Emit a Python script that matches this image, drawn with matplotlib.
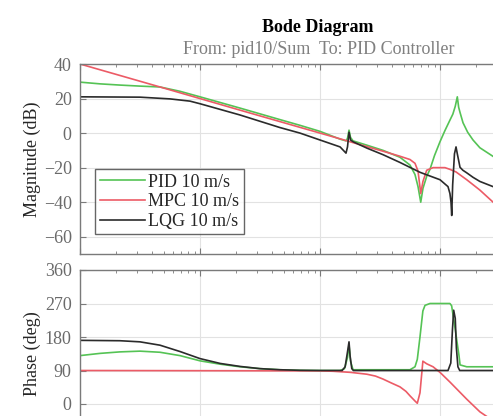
import numpy as np
import matplotlib
matplotlib.use("Agg")
import matplotlib.pyplot as plt
from matplotlib.ticker import LogLocator, NullFormatter, FixedLocator

plt.rcParams['font.family'] = ['Liberation Serif', 'DejaVu Serif']

# ---------------- data ----------------
# frequency (rad/s) for each series
w_mpc_mag = [0.01, 0.0464, 0.215, 1.0, 1.555, 2.154, 3.35, 4.64, 5.62, 6.19, 6.56, 6.91, 7.21, 7.75,
             8.75, 11.0, 12.1, 13.6, 16.7, 21.5, 27.7]
mpc_mag = [40, 26.7, 13.3, 0, -3.8, -6.7, -10.5, -13.4, -15.3, -17.5, -22, -35, -28, -21.5,
           -20, -20, -21, -22.5, -27, -33, -40]

w_pid_mag = [0.01, 0.0147, 0.0215, 0.0316, 0.0464, 0.0681, 0.1, 0.215, 0.464, 0.681, 1.0, 1.47,
             1.647, 1.695, 1.745, 1.796, 1.884, 2.46, 3.35, 4.64, 5.62, 6.19, 6.56, 6.91, 7.21,
             7.75, 8.25, 9.0, 10.0, 11.0, 12.1, 12.8, 13.4, 13.94, 14.3, 14.68, 15.55, 17.0,
             18.84, 21.5, 27.7]
pid_mag = [29.5, 28.5, 27.8, 27.2, 26.7, 24.2, 21, 14.5, 7.8, 4.5, 1.0, -3.5,
           -4.5, -3, 1.7, -2.5, -4.5, -7, -10, -14, -18.5, -24, -31, -40, -32,
           -25, -21, -13, -5, 1.5, 7.5, 11, 15.5, 21, 15, 12, 6, 0.5,
           -4, -8.5, -13.5]

w_lqg_mag = [0.01, 0.0316, 0.0562, 0.0825, 0.1, 0.215, 0.464, 0.681, 1.0, 1.47, 1.647, 1.695,
             1.745, 1.796, 1.884, 2.46, 3.35, 4.64, 6.81, 10.0, 11.66, 12.1, 12.35, 12.52, 12.75,
             13.2, 13.6, 13.94, 14.68, 15.5, 16.7, 18.84, 21.5, 27.7]
lqg_mag = [21, 20.8, 19.8, 18.5, 17, 10.5, 3.2, 0, -4, -8, -11.6, -8,
           0.5, -4, -5, -8.7, -12.5, -17, -22.7, -27, -31, -35, -40, -47.7, -30,
           -12, -8, -12, -19.8, -21.5, -23, -25.6, -28, -31]

w_mpc_ph = [0.01, 1.0, 1.28, 1.796, 2.46, 2.9, 3.35, 3.9, 4.64, 5.2, 5.62, 6.19, 6.47, 6.81,
            7.2, 7.75, 8.75, 10.0, 12.1, 16.7, 21.5, 27.7]
mpc_ph = [90, 89, 88, 85, 80, 75, 67, 57, 46, 34, 22, 8, 2, 30,
          115, 108, 100, 85, 59, 13, -21, -45]

w_pid_ph = [0.01, 0.0147, 0.0215, 0.0316, 0.0464, 0.0681, 0.1, 0.147, 0.215, 0.316, 0.464, 0.681,
            1.0, 1.47, 1.60, 1.695, 1.745, 1.796, 1.884, 5.62, 6.19, 6.47, 6.81, 7.2, 7.5, 8.25,
            12.1, 12.5, 13.4, 14.4, 14.7, 16.7, 27.7]
pid_ph = [130, 136, 140, 142, 139, 130, 116, 107, 100, 95, 92, 90.5,
          90, 90, 95, 125, 158, 115, 92, 92, 100, 120, 180, 250, 265, 270,
          270, 264, 200, 130, 105, 100, 100]

w_lqg_ph = [0.01, 0.0215, 0.0316, 0.0464, 0.0681, 0.1, 0.147, 0.215, 0.316, 0.464, 0.681, 1.0,
            1.53, 1.62, 1.695, 1.745, 1.78, 1.84, 1.90, 11.66, 12.3, 12.7, 13.0, 13.4, 13.7,
            14.1, 14.6, 27.7]
lqg_ph = [171, 170, 167, 158, 141, 122, 109, 101, 95, 92, 90.5, 90,
          90, 100, 140, 167, 130, 95, 90, 90, 110, 200, 252, 230, 150,
          100, 90, 90]

labels = ['PID 10 m/s', 'MPC 10 m/s', 'LQG 10 m/s']
mag_ticks = [-60, -40, -20, 0, 20, 40]
ph_ticks = [0, 90, 180, 270, 360]

# ---------------- styling ----------------
c_pid = '#55c355'
c_mpc = '#ec5b66'
c_lqg = '#2b2b2b'
spine_c = '#7a7a7a'
tick_c = '#6a6a6a'
grid_c = '#e2e2e2'
fs = 13

fig = plt.figure(figsize=(4.93, 4.16), dpi=100)
W, H = 493, 416

def fr(x0, y_top, x1, y_bot):
    return [x0 / W, 1 - y_bot / H, (x1 - x0) / W, (y_bot - y_top) / H]

ax1 = fig.add_axes(fr(80, 64, 560, 254))
ax2 = fig.add_axes(fr(80, 270, 560, 437.5))

for ax in (ax1, ax2):
    ax.set_xscale('log')
    ax.set_xlim(1e-2, 1e2)
    ax.grid(True, which='major', color=grid_c, lw=0.8)
    ax.set_axisbelow(True)
    for s in ax.spines.values():
        s.set_color(spine_c)
        s.set_linewidth(1.0)
    ax.tick_params(which='both', direction='in', top=True, right=True,
                   color=spine_c, labelcolor=tick_c, labelsize=fs, length=4, pad=6)
    ax.tick_params(which='minor', length=2.5)
    ax.xaxis.set_minor_locator(LogLocator(base=10, subs=np.arange(2, 10), numticks=20))
    ax.xaxis.set_minor_formatter(NullFormatter())
    ax.tick_params(axis='x', labelbottom=False)

ax1.plot(w_pid_mag, pid_mag, color=c_pid, lw=1.2, label=labels[0])
ax1.plot(w_mpc_mag, mpc_mag, color=c_mpc, lw=1.2, label=labels[1])
ax1.plot(w_lqg_mag, lqg_mag, color=c_lqg, lw=1.2, label=labels[2])
ax1.set_ylim(-70, 40)
ax1.yaxis.set_major_locator(FixedLocator(mag_ticks))

ax2.plot(w_pid_ph, pid_ph, color=c_pid, lw=1.2)
ax2.plot(w_mpc_ph, mpc_ph, color=c_mpc, lw=1.2)
ax2.plot(w_lqg_ph, lqg_ph, color=c_lqg, lw=1.2)
ax2.set_ylim(-90, 360)
ax2.yaxis.set_major_locator(FixedLocator(ph_ticks))

ax1.set_ylabel('Magnitude (dB)', fontsize=fs, color='#262626')
ax2.set_ylabel('Phase (deg)', fontsize=fs, color='#262626')
ax1.yaxis.set_label_coords((41 - 80) / 480, 0.5)
ax2.yaxis.set_label_coords((41 - 80) / 480, 0.5)

leg = ax1.legend(loc='upper left', bbox_to_anchor=((95 - 80) / 480, (254 - 169) / 190),
                 fontsize=fs, frameon=True, fancybox=False, edgecolor='#404040',
                 handlelength=2.5, handletextpad=0.2, labelspacing=0.15,
                 borderpad=0.25, borderaxespad=0)
leg.get_frame().set_linewidth(1.0)
for t in leg.get_texts():
    t.set_color('#262626')

fig.text(318 / W, 1 - 28 / H, 'Bode Diagram', fontsize=fs, fontweight='bold',
         ha='center', va='center', color='black')
fig.text(319 / W, 1 - 49 / H, 'From: pid10/Sum  To: PID Controller', fontsize=fs,
         ha='center', va='center', color='#808080')

fig.savefig('out.png', dpi=100)
